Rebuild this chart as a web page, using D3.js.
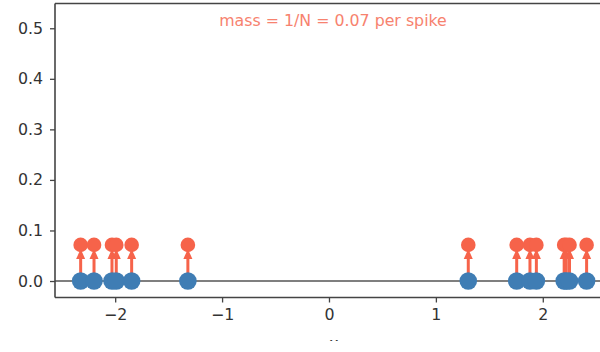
<!DOCTYPE html>
<html><head><meta charset="utf-8">
<script src="https://cdn.jsdelivr.net/npm/d3@7"></script>
<style>body{margin:0;background:#fff}svg{display:block}</style>
</head><body>
<script>
const spikes = [-2.323, -2.198, -2.03, -1.99, -1.846, -1.32, 1.303, 1.756, 1.88, 1.94, 2.2, 2.22, 2.25, 2.41];
const yTicks = [0.0, 0.1, 0.2, 0.3, 0.4, 0.5];
const xTicks = [-2, -1, 0, 1, 2];
const N = spikes.length;
const mass = 1 / N;
const annotation = `mass = 1/N = ${mass.toFixed(2)} per spike`;
const xLabel = "x";

const W = 600, H = 352;
const red = "#f6634a", blue = "#3f7db4", ink = "#444";
const svg = d3.select("body").append("svg").attr("width", W).attr("height", H);

const x = d3.scaleLinear().domain([-2.563, 2.65]).range([55, 55 + 5.213 * 106.9]);
const y = d3.scaleLinear().domain([-0.0326, 0.549]).range([297.5, 3.5]);
const font = "DejaVu Sans, sans-serif";
const fs = 15.8;

// zero line
svg.append("line").attr("x1", 55).attr("x2", W).attr("y1", y(0)).attr("y2", y(0))
  .attr("stroke", "#555").attr("stroke-width", 1.4);

// stems and arrowheads
const g = svg.append("g");
const tipY = y(mass) + 4;
g.selectAll("line.stem").data(spikes).join("line")
  .attr("x1", d => x(d)).attr("x2", d => x(d))
  .attr("y1", y(0)).attr("y2", tipY + 8)
  .attr("stroke", red).attr("stroke-width", 3);
g.selectAll("path.head").data(spikes).join("path")
  .attr("d", d => `M${x(d) - 4.5},${tipY + 10} L${x(d)},${tipY} L${x(d) + 4.5},${tipY + 10} Z`)
  .attr("fill", red);
g.selectAll("circle.top").data(spikes).join("circle")
  .attr("cx", d => x(d)).attr("cy", y(mass)).attr("r", 7.3).attr("fill", red);
g.selectAll("circle.base").data(spikes).join("circle")
  .attr("cx", d => x(d)).attr("cy", y(0)).attr("r", 8.8).attr("fill", blue);

// spines
svg.append("line").attr("x1", 55).attr("x2", 55).attr("y1", 3.5).attr("y2", 297.5).attr("stroke", ink).attr("stroke-width", 1.6);
svg.append("line").attr("x1", 55).attr("x2", W).attr("y1", 297.5).attr("y2", 297.5).attr("stroke", ink).attr("stroke-width", 1.6);
svg.append("line").attr("x1", 55).attr("x2", W).attr("y1", 3.5).attr("y2", 3.5).attr("stroke", ink).attr("stroke-width", 1.6);

// axes
const yAxis = svg.append("g").attr("transform", "translate(55,0)")
  .call(d3.axisLeft(y).tickValues(yTicks).tickFormat(d3.format(".1f")).tickSize(5).tickPadding(7));
const xAxis = svg.append("g").attr("transform", "translate(0,297.5)")
  .call(d3.axisBottom(x).tickValues(xTicks).tickFormat(d => d < 0 ? "\u2212" + Math.abs(d) : String(d)).tickSize(5).tickPadding(6));
[yAxis, xAxis].forEach(a => {
  a.select(".domain").remove();
  a.selectAll(".tick line").attr("stroke", ink).attr("stroke-width", 1.3);
  a.selectAll("text").attr("fill", "#333").attr("font-family", font).attr("font-size", fs);
});

// annotation
svg.append("text").attr("x", 333).attr("y", 26).attr("text-anchor", "middle")
  .attr("font-family", font).attr("font-size", fs).attr("fill", red).attr("opacity", 0.8)
  .text(annotation);

// x label (mostly cut off in the reference)
svg.append("clipPath").attr("id", "cl").append("rect").attr("x", 0).attr("y", 0).attr("width", W).attr("height", 341);
svg.append("text").attr("x", 334).attr("y", 349).attr("text-anchor", "middle").attr("clip-path", "url(#cl)")
  .attr("font-family", font).attr("font-size", fs).attr("fill", "#333").text(xLabel);
</script>
</body></html>
